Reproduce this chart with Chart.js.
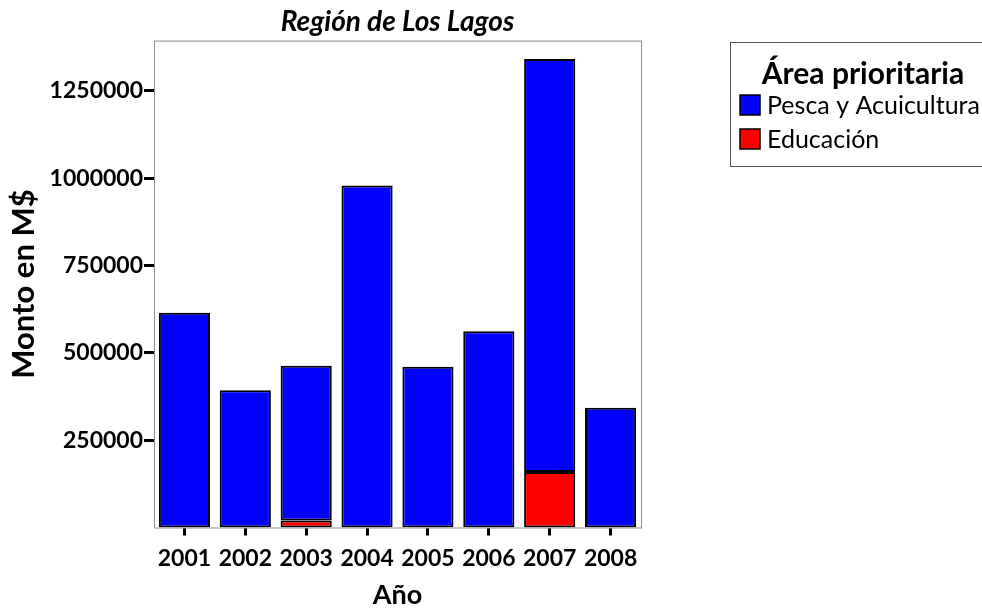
<!DOCTYPE html>
<html lang="es">
<head>
  <meta charset="UTF-8">
  <title>Región de Los Lagos</title>
  <script src="https://cdn.jsdelivr.net/npm/chart.js"></script>
  <style>
    html, body { margin: 0; padding: 0; background: #fff; overflow: hidden; }
    #wrap { width: 982px; height: 611px; }
  </style>
</head>
<body>
  <div id="wrap"><canvas id="chart" width="982" height="611"></canvas></div>
  <script>
    // data
    const years = ['2001', '2002', '2003', '2004', '2005', '2006', '2007', '2008'];
    const pesca = [615000, 393000, 443000, 979000, 460000, 562000, 1182000, 343000];
    const educacion = [null, null, 20000, null, null, null, 159000, null];
    const yTicks = [250000, 500000, 750000, 1000000, 1250000];
    const yMax = 1394000;

    const FONT = 'Lato';

    // plot frame + legend box on the right
    const frameAndLegend = {
      id: 'frameAndLegend',
      afterDraw(chart) {
        const ctx = chart.ctx;
        const a = chart.chartArea;
        ctx.save();
        ctx.strokeStyle = '#8c8c8c';
        ctx.lineWidth = 1;
        ctx.strokeRect(a.left + 0.5, a.top + 0.5, a.right - a.left, a.bottom - a.top);

        // legend
        ctx.strokeStyle = '#555';
        ctx.strokeRect(730.5, 42.5, 300, 124);
        ctx.fillStyle = '#000';
        ctx.textBaseline = 'middle';
        ctx.textAlign = 'center';
        ctx.font = 'bold 30px ' + FONT;
        ctx.fillText('Área prioritaria', 863, 74);

        const items = [chart.data.datasets[1], chart.data.datasets[0]];
        items.forEach((ds, i) => {
          const y = 95 + i * 34;
          ctx.fillStyle = ds.backgroundColor;
          ctx.fillRect(740, y, 20, 20);
          ctx.strokeStyle = '#000';
          ctx.lineWidth = 1.5;
          ctx.strokeRect(740, y, 20, 20);
          ctx.fillStyle = '#000';
          ctx.textAlign = 'left';
          ctx.font = '25px ' + FONT;
          ctx.fillText(ds.label, 767, y + 11);
        });
        ctx.restore();
      }
    };

    function draw() {
      Chart.defaults.color = '#000';
      Chart.defaults.font.family = FONT;

      new Chart(document.getElementById('chart'), {
        type: 'bar',
        data: {
          labels: years,
          datasets: [
            {
              label: 'Educación',
              data: educacion,
              backgroundColor: '#ff0000',
              borderColor: '#000',
              borderWidth: 2,
              borderSkipped: false
            },
            {
              label: 'Pesca y Acuicultura',
              data: pesca,
              backgroundColor: '#0000ff',
              borderColor: '#000',
              borderWidth: 2,
              borderSkipped: false
            }
          ]
        },
        options: {
          responsive: false,
          animation: false,
          layout: { padding: { left: 0, right: 341, top: 0, bottom: 0 } },
          datasets: { bar: { barPercentage: 0.84, categoryPercentage: 1 } },
          plugins: {
            legend: { display: false },
            tooltip: { enabled: false },
            title: {
              display: true,
              text: 'Región de Los Lagos',
              fullSize: false,
              font: { family: FONT, size: 28, weight: 'bold', style: 'italic' },
              padding: { top: 5, bottom: 2 }
            }
          },
          scales: {
            x: {
              stacked: true,
              afterFit(scale) { scale.height = 83.5; },
              grid: {
                offset: false,
                drawOnChartArea: false,
                tickLength: 8,
                tickWidth: 3,
                tickColor: '#000'
              },
              border: { display: false },
              ticks: {
                padding: 9,
                font: { family: FONT, size: 23, weight: 'bold' }
              },
              title: {
                display: true,
                text: 'Año',
                font: { family: FONT, size: 27, weight: 'bold' },
                padding: { top: 2, bottom: 0 }
              }
            },
            y: {
              stacked: true,
              min: 0,
              max: yMax,
              afterFit(scale) { scale.width = 154; },
              afterBuildTicks(scale) {
                scale.ticks = yTicks.map(v => ({ value: v }));
              },
              grid: {
                drawOnChartArea: false,
                tickLength: 10,
                tickWidth: 3,
                tickColor: '#000'
              },
              border: { display: false },
              ticks: {
                padding: 1,
                callback: v => String(v),
                font: { family: FONT, size: 23, weight: 'bold' }
              },
              title: {
                display: true,
                text: 'Monto en M$',
                font: { family: FONT, size: 31, weight: 'bold' },
                padding: { top: 5, bottom: 0 }
              }
            }
          }
        },
        plugins: [frameAndLegend]
      });
    }

    if (document.fonts && document.fonts.load) {
      Promise.all([
        document.fonts.load('bold 23px Lato'),
        document.fonts.load('italic bold 23px Lato'),
        document.fonts.load('23px Lato')
      ]).then(draw, draw);
    } else {
      draw();
    }
  </script>
</body>
</html>
